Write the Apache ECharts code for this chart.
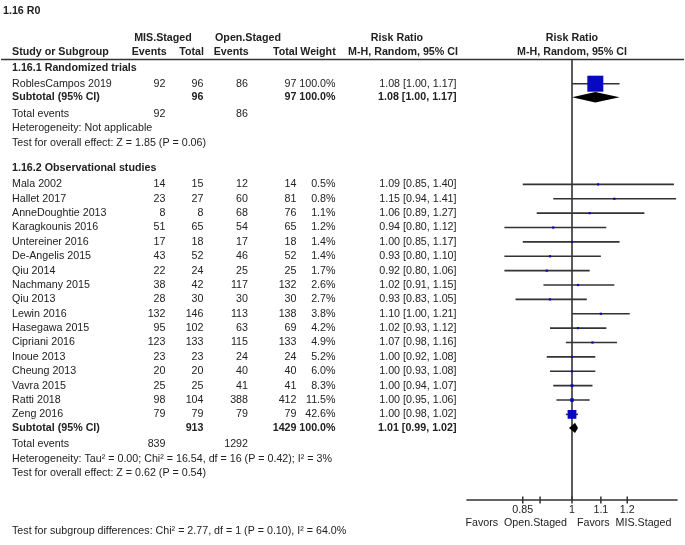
<!DOCTYPE html>
<html>
<head>
<meta charset="utf-8">
<title>1.16 R0</title>
<script src="https://cdn.jsdelivr.net/npm/echarts@6/dist/echarts.min.js"></script>
<style>
  html, body { margin: 0; padding: 0; background: #fff; }
  #main { width: 685px; height: 545px; }
</style>
</head>
<body>
<div id="main"></div>
<script>
// ---- data ----
var groupNames = ['1.16.1 Randomized trials', '1.16.2 Observational studies'];

var studies1 = ['RoblesCampos 2019'];
var misEvents1 = [92];
var misTotal1 = [96];
var openEvents1 = [86];
var openTotal1 = [97];
var weight1 = [100.0];
var rr1 = [1.08];
var lo1 = [1.00];
var hi1 = [1.17];

var studies2 = ['Mala 2002', 'Hallet 2017', 'AnneDoughtie 2013', 'Karagkounis 2016', 'Untereiner 2016',
  'De-Angelis 2015', 'Qiu 2014', 'Nachmany 2015', 'Qiu 2013', 'Lewin 2016', 'Hasegawa 2015',
  'Cipriani 2016', 'Inoue 2013', 'Cheung 2013', 'Vavra 2015', 'Ratti 2018', 'Zeng 2016'];
var misEvents2 = [14, 23, 8, 51, 17, 43, 22, 38, 28, 132, 95, 123, 23, 20, 25, 98, 79];
var misTotal2 = [15, 27, 8, 65, 18, 52, 24, 42, 30, 146, 102, 133, 23, 20, 25, 104, 79];
var openEvents2 = [12, 60, 68, 54, 17, 46, 25, 117, 30, 113, 63, 115, 24, 40, 41, 388, 79];
var openTotal2 = [14, 81, 76, 65, 18, 52, 25, 132, 30, 138, 69, 133, 24, 40, 41, 412, 79];
var weight2 = [0.5, 0.8, 1.1, 1.2, 1.4, 1.4, 1.7, 2.6, 2.7, 3.8, 4.2, 4.9, 5.2, 6.0, 8.3, 11.5, 42.6];
var rr2 = [1.09, 1.15, 1.06, 0.94, 1.00, 0.93, 0.92, 1.02, 0.93, 1.10, 1.02, 1.07, 1.00, 1.00, 1.00, 1.00, 1.00];
var lo2 = [0.85, 0.94, 0.89, 0.80, 0.85, 0.80, 0.80, 0.91, 0.83, 1.00, 0.93, 0.98, 0.92, 0.93, 0.94, 0.95, 0.98];
var hi2 = [1.40, 1.41, 1.27, 1.12, 1.17, 1.10, 1.06, 1.15, 1.05, 1.21, 1.12, 1.16, 1.08, 1.08, 1.07, 1.06, 1.02];

var subMisTotal = [96, 913];
var subOpenTotal = [97, 1429];
var subMisEvents = [92, 839];
var subOpenEvents = [86, 1292];
var subRR = [1.08, 1.01];
var subLo = [1.00, 0.99];
var subHi = [1.17, 1.02];
var heterogeneity = ['Heterogeneity: Not applicable',
  'Heterogeneity: Tau\u00b2 = 0.00; Chi\u00b2 = 16.54, df = 16 (P = 0.42); I\u00b2 = 3%'];
var overallEffect = ['Test for overall effect: Z = 1.85 (P = 0.06)',
  'Test for overall effect: Z = 0.62 (P = 0.54)'];
var subgroupTest = 'Test for subgroup differences: Chi\u00b2 = 2.77, df = 1 (P = 0.10), I\u00b2 = 64.0%';

var tickValues = [0.85, 0.9, 1, 1.1, 1.2];
var tickLabels = ['0.85', '', '1', '1.1', '1.2'];
var favorsLeft = 'Favors  Open.Staged';
var favorsRight = 'Favors  MIS.Staged';

// ---- layout ----
var FONT = '"Liberation Sans", Arial, sans-serif';
var FS = 10.7;
var INK = '#222';
var LINE = '#333';
var BLUE = '#0808c4';
var PLOT_H = 441;   // grid height, y axis in pixel rows

var groups = [
  { studies: studies1, me: misEvents1, mt: misTotal1, oe: openEvents1, ot: openTotal1, w: weight1, rr: rr1, lo: lo1, hi: hi1 },
  { studies: studies2, me: misEvents2, mt: misTotal2, oe: openEvents2, ot: openTotal2, w: weight2, rr: rr2, lo: lo2, hi: hi2 }
];

var rows = [];
var y = 8.7;
function addRow(r, gap) { y += gap; r.y = y; rows.push(r); }
groups.forEach(function (g, gi) {
  addRow({ kind: 'head', label: groupNames[gi] }, gi === 0 ? 0 : 25.6);
  g.studies.forEach(function (s, i) {
    addRow({ kind: 'study', label: s, cells: [g.me[i], g.mt[i], g.oe[i], g.ot[i], g.w[i].toFixed(1) + '%'],
      rr: g.rr[i], lo: g.lo[i], hi: g.hi[i], w: g.w[i] }, i === 0 ? 16 : 14.375);
  });
  addRow({ kind: 'sub', label: 'Subtotal (95% CI)', cells: ['', subMisTotal[gi], '', subOpenTotal[gi], '100.0%'],
    rr: subRR[gi], lo: subLo[gi], hi: subHi[gi] }, 13.5);
  addRow({ kind: 'total', label: 'Total events', cells: [subMisEvents[gi], '', subOpenEvents[gi], '', ''] }, 16.4);
  addRow({ kind: 'note', label: heterogeneity[gi] }, 14.8);
  addRow({ kind: 'note', label: overallEffect[gi] }, 14.4);
});

var colRight = [165.5, 203.5, 248, 296.5, 335.5];
var ciRight = 456.5;

function fmtCI(r) {
  return r.rr.toFixed(2) + ' [' + r.lo.toFixed(2) + ', ' + r.hi.toFixed(2) + ']';
}

function txt(str, x, yy, align, bold) {
  return {
    type: 'text',
    style: { text: String(str), x: x, y: yy, align: align, verticalAlign: 'middle',
      fontSize: FS, fontFamily: FONT, fontWeight: bold ? 'bold' : 'normal', fill: INK }
  };
}

function renderTable(params, api) {
  var r = rows[params.dataIndex];
  var py = api.coord([1, r.y])[1];
  var bold = r.kind === 'head' || r.kind === 'sub';
  var kids = [txt(r.label, 12, py, 'left', bold)];
  if (r.cells) {
    r.cells.forEach(function (c, ci) {
      if (c !== '') kids.push(txt(c, colRight[ci], py, 'right', bold));
    });
  }
  if (r.kind === 'study' || r.kind === 'sub') kids.push(txt(fmtCI(r), ciRight, py, 'right', bold));
  return { type: 'group', children: kids };
}

var studyRows = rows.filter(function (r) { return r.kind === 'study'; });
var subRows = rows.filter(function (r) { return r.kind === 'sub'; });

function renderStudy(params, api) {
  var r = studyRows[params.dataIndex];
  var a = api.coord([r.lo, r.y]);
  var b = api.coord([r.hi, r.y]);
  var c = api.coord([r.rr, r.y]);
  var s = Math.max(2.2, 16 * Math.pow(r.w / 100, 0.7));
  return {
    type: 'group',
    children: [
      { type: 'line', shape: { x1: a[0], y1: a[1], x2: b[0], y2: b[1] }, style: { stroke: LINE, lineWidth: 1.6 } },
      { type: 'rect', shape: { x: c[0] - s / 2, y: c[1] - s / 2, width: s, height: s }, style: { fill: BLUE } }
    ]
  };
}

function renderDiamond(params, api) {
  var r = subRows[params.dataIndex];
  var a = api.coord([r.lo, r.y]);
  var b = api.coord([r.hi, r.y]);
  var c = api.coord([r.rr, r.y]);
  var h = 5.2;
  return {
    type: 'polygon',
    shape: { points: [[a[0], a[1]], [c[0], c[1] - h], [b[0], b[1]], [c[0], c[1] + h]] },
    style: { fill: '#000' }
  };
}

function renderNullLine(params, api) {
  var top = api.coord([1, 0]);
  var bot = api.coord([1, PLOT_H]);
  return {
    type: 'group',
    children: [
      { type: 'line', shape: { x1: top[0], y1: top[1], x2: bot[0], y2: bot[1] }, style: { stroke: LINE, lineWidth: 1.6 } },
      txt(favorsLeft, bot[0] - 5, bot[1] + 23.5, 'right', false),
      txt(favorsRight, bot[0] + 5, bot[1] + 23.5, 'left', false)
    ]
  };
}

function renderTick(params, api) {
  var p = api.coord([tickValues[params.dataIndex], PLOT_H]);
  return {
    type: 'group',
    children: [
      { type: 'line', shape: { x1: p[0], y1: p[1] - 3.5, x2: p[0], y2: p[1] + 3.5 }, style: { stroke: LINE, lineWidth: 1.5 } },
      txt(tickLabels[params.dataIndex], p[0], p[1] + 10.5, 'center', false)
    ]
  };
}

function headText(str, x, yy, align) {
  return { type: 'text', x: x, y: yy,
    style: { text: str, align: align, verticalAlign: 'middle', fontSize: FS, fontFamily: FONT, fontWeight: 'bold', fill: INK } };
}

var chart = echarts.init(document.getElementById('main'));
chart.setOption({
  animation: false,
  backgroundColor: '#fff',
  grid: { left: 467, right: 8, top: 59, height: PLOT_H },
  xAxis: {
    type: 'log', logBase: 10, min: Math.SQRT1_2, max: Math.SQRT2,
    axisLine: { show: true, onZero: false, lineStyle: { color: LINE, width: 1.6 } },
    axisTick: { show: false }, axisLabel: { show: false }, splitLine: { show: false }
  },
  yAxis: { type: 'value', inverse: true, min: 0, max: PLOT_H, show: false },
  graphic: [
    headText('1.16 R0', 3, 11, 'left'),
    headText('MIS.Staged', 163, 38, 'center'),
    headText('Open.Staged', 248, 38, 'center'),
    headText('Risk Ratio', 397, 38, 'center'),
    headText('Risk Ratio', 572, 38, 'center'),
    headText('Study or Subgroup', 12, 52.5, 'left'),
    headText('Events', 166.7, 52.5, 'right'),
    headText('Total', 204, 52.5, 'right'),
    headText('Events', 248.7, 52.5, 'right'),
    headText('Total', 297.7, 52.5, 'right'),
    headText('Weight', 335.7, 52.5, 'right'),
    headText('M-H, Random, 95% CI', 403, 52.5, 'center'),
    headText('M-H, Random, 95% CI', 572, 52.5, 'center'),
    { type: 'line', shape: { x1: 1, y1: 59.5, x2: 684, y2: 59.5 }, style: { stroke: LINE, lineWidth: 1.6 } },
    { type: 'text', x: 12, y: 531.5,
      style: { text: subgroupTest, verticalAlign: 'middle', fontSize: FS, fontFamily: FONT, fill: INK } }
  ],
  series: [
    { type: 'custom', clip: false, renderItem: renderNullLine, data: [[1, 0]], z: 1 },
    { type: 'custom', clip: false, renderItem: renderTick, data: tickValues.map(function (v) { return [v, PLOT_H]; }) },
    { type: 'custom', clip: false, renderItem: renderTable, data: rows.map(function (r) { return [1, r.y]; }) },
    { type: 'custom', clip: false, renderItem: renderStudy, data: studyRows.map(function (r) { return [r.rr, r.y]; }), z: 3 },
    { type: 'custom', clip: false, renderItem: renderDiamond, data: subRows.map(function (r) { return [r.rr, r.y]; }), z: 3 }
  ]
});
</script>
</body>
</html>
